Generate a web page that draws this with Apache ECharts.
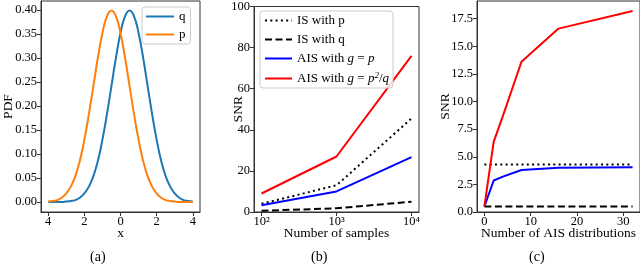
<!DOCTYPE html>
<html><head><meta charset="utf-8">
<script src="https://cdn.jsdelivr.net/npm/echarts@6/dist/echarts.min.js"></script>
<style>html,body{margin:0;padding:0;background:#fff}#c{width:640px;height:264px}</style>
</head><body><div id="c"></div>
<script>
// ---- Panel (a): PDFs ----
const pdfX = [-4,-3.75,-3.5,-3.25,-3,-2.75,-2.5,-2.25,-2,-1.75,-1.5,-1.25,-1,-0.75,-0.5,-0.25,0,0.25,0.5,0.75,1,1.25,1.5,1.75,2,2.25,2.5,2.75,3,3.25,3.5,3.75,4];
const pdfQ = [0.000,0.000,0.000,0.000,0.001,0.002,0.004,0.009,0.018,0.032,0.054,0.086,0.130,0.183,0.242,0.301,0.352,0.387,0.399,0.387,0.352,0.301,0.242,0.183,0.130,0.086,0.054,0.032,0.018,0.009,0.004,0.002,0.001];
const pdfP = [0.001,0.002,0.004,0.009,0.018,0.032,0.054,0.086,0.130,0.183,0.242,0.301,0.352,0.387,0.399,0.387,0.352,0.301,0.242,0.183,0.130,0.086,0.054,0.032,0.018,0.009,0.004,0.002,0.001,0.000,0.000,0.000,0.000];
const aTicksX = [-4,-2,0,2,4];
const aTicksY = [0,0.05,0.10,0.15,0.20,0.25,0.30,0.35,0.40];

// ---- Panel (b): SNR vs number of samples ----
const samples = [100,1000,10000];
const bIsP = [4,13,45.5];
const bIsQ = [0.6,1.8,5];
const bAisP = [3.3,10,26.7];
const bAisP2q = [9,27,76];
const bTicksX = [100,1000,10000];
const bTickLabels = ['10²','10³','10⁴'];
const bTicksY = [0,20,40,60,80,100];

// ---- Panel (c): SNR vs number of AIS distributions ----
const nDist = [0,2,4,8,16,32];
const cIsP = [4.3,4.3,4.3,4.3,4.3,4.3];
const cIsQ = [0.5,0.5,0.5,0.5,0.5,0.5];
const cAisP = [0.5,2.85,3.2,3.8,4.0,4.05];
const cAisP2q = [0.5,6.35,8.7,13.6,16.6,18.2];
const cTicksX = [0,10,20,30];
const cTicksY = [0,2.5,5,7.5,10,12.5,15,17.5];

const FONT = 'Liberation Serif';
const zip = (xs, ys) => xs.map((x, i) => [x, ys[i]]);
const txt = (size) => ({fontFamily: FONT, fontSize: size, color: '#000'});

function xAx(grid, type, min, max, ticks, fmt, name, gap) {
  return {
    gridIndex: grid, type: type, min: min, max: max,
    axisLine: {show: true, onZero: false, lineStyle: {color: '#333', width: 1}},
    axisTick: {show: true, customValues: ticks, length: 4, lineStyle: {color: '#333'}},
    axisLabel: Object.assign({customValues: ticks, formatter: fmt, margin: 3}, txt(12.5)),
    splitLine: {show: false}, minorTick: {show: false},
    name: name, nameLocation: 'middle', nameGap: gap, nameMoveOverlap: false, nameTextStyle: txt(13.5)
  };
}
function yAx(grid, min, max, ticks, fmt, name, gap) {
  return {
    gridIndex: grid, type: 'value', min: min, max: max,
    axisLine: {show: true, onZero: false, lineStyle: {color: '#333', width: 1}},
    axisTick: {show: true, customValues: ticks, length: 4, lineStyle: {color: '#333'}},
    axisLabel: Object.assign({customValues: ticks, formatter: fmt, margin: 4}, txt(12.5)),
    splitLine: {show: false},
    name: name, nameLocation: 'middle', nameGap: gap, nameMoveOverlap: false, nameTextStyle: txt(13.5)
  };
}
function line(name, xi, yi, data, color, type, width) {
  return {
    name: name, type: 'line', xAxisIndex: xi, yAxisIndex: yi, data: data,
    symbol: 'none', smooth: false, animation: false,
    lineStyle: {color: color, width: width, type: type},
    itemStyle: {color: color}
  };
}

const legendNames = {
  'IS with p': 'IS with p',
  'IS with q': 'IS with q',
  'AIS with g = p': 'AIS with {i|g} = {i|p}',
  'AIS with g = p²/q': 'AIS with {i|g} = {i|p}{s|2}/{i|q}'
};
const hideSymbol = {color: 'transparent', borderColor: 'transparent', borderWidth: 0, opacity: 0};

const chart = echarts.init(document.getElementById('c'), null, {renderer: 'canvas'});
chart.setOption({
  animation: false,
  backgroundColor: '#fff',
  grid: [
    {left: 36, top: 1, width: 164, height: 211, show: true, borderColor: '#333', borderWidth: 1, containLabel: false},
    {left: 254, top: 5, width: 165, height: 207, show: true, borderColor: '#333', borderWidth: 1, containLabel: false},
    {left: 477, top: 1, width: 163, height: 211, show: true, borderColor: '#333', borderWidth: 1, containLabel: false}
  ],
  xAxis: [
    xAx(0, 'value', -4.4, 4.4, aTicksX, v => String(Math.abs(v)), 'x', 14),
    xAx(1, 'log', 79.43, 12589, bTicksX, v => bTickLabels[bTicksX.indexOf(Math.round(v))] || '', 'Number of samples', 14),
    xAx(2, 'value', -1.6, 33.6, cTicksX, v => String(v), 'Number of AIS distributions', 14)
  ],
  yAxis: [
    yAx(0, -0.0208, 0.4188, aTicksY, v => v.toFixed(2), 'PDF', 26),
    yAx(1, 0, 100, bTicksY, v => String(v), 'SNR', 9),
    yAx(2, 0, 19.1, cTicksY, v => v.toFixed(1), 'SNR', 25)
  ],
  legend: [
    {
      data: ['q', 'p'], orient: 'vertical', left: 142, top: 7,
      itemWidth: 28, itemHeight: 12, itemGap: 5, padding: [3, 5, 3, 3],
      borderColor: '#ccc', borderWidth: 1, borderRadius: 3, backgroundColor: 'rgba(255,255,255,0.8)',
      itemStyle: hideSymbol,
      textStyle: txt(13), selectedMode: false
    },
    {
      data: ['IS with p', 'IS with q', 'AIS with g = p', 'AIS with g = p²/q'],
      orient: 'vertical', left: 260, top: 11,
      itemWidth: 27, itemHeight: 12, itemGap: 6, padding: [3, 4, 3, 4],
      borderColor: '#ccc', borderWidth: 1, borderRadius: 3, backgroundColor: 'rgba(255,255,255,0.8)',
      itemStyle: hideSymbol,
      formatter: n => legendNames[n] || n,
      textStyle: Object.assign({rich: {
        i: {fontFamily: FONT, fontSize: 13, fontStyle: 'italic', color: '#000'},
        s: {fontFamily: FONT, fontSize: 9, fontStyle: 'italic', color: '#000', verticalAlign: 'top', padding: [0, 0, 6, 0]}
      }}, txt(13)),
      selectedMode: false
    }
  ],
  graphic: [
    {type: 'text', left: 90, top: 250, style: {text: '(a)', font: '14px "Liberation Serif"', fill: '#000'}},
    {type: 'text', left: 311, top: 250, style: {text: '(b)', font: '14px "Liberation Serif"', fill: '#000'}},
    {type: 'text', left: 529, top: 250, style: {text: '(c)', font: '14px "Liberation Serif"', fill: '#000'}}
  ],
  series: [
    line('q', 0, 0, zip(pdfX, pdfQ), '#1f77b4', 'solid', 2),
    line('p', 0, 0, zip(pdfX, pdfP), '#ff7f0e', 'solid', 2),
    line('IS with p', 1, 1, zip(samples, bIsP), '#000', [2, 3.3], 2),
    line('IS with q', 1, 1, zip(samples, bIsQ), '#000', [7, 3.5], 2),
    line('AIS with g = p', 1, 1, zip(samples, bAisP), '#0000ff', 'solid', 2),
    line('AIS with g = p²/q', 1, 1, zip(samples, bAisP2q), '#ff0000', 'solid', 2),
    line('c IS with p', 2, 2, zip(nDist, cIsP), '#000', [2, 3.3], 2),
    line('c IS with q', 2, 2, zip(nDist, cIsQ), '#000', [7, 3.5], 2),
    line('c AIS with g = p', 2, 2, zip(nDist, cAisP), '#0000ff', 'solid', 2),
    line('c AIS with g = p²/q', 2, 2, zip(nDist, cAisP2q), '#ff0000', 'solid', 2)
  ].map(s => (s.xAxisIndex === 0 ? Object.assign(s, {smooth: 0.5}) : s))
});
</script>
</body></html>
